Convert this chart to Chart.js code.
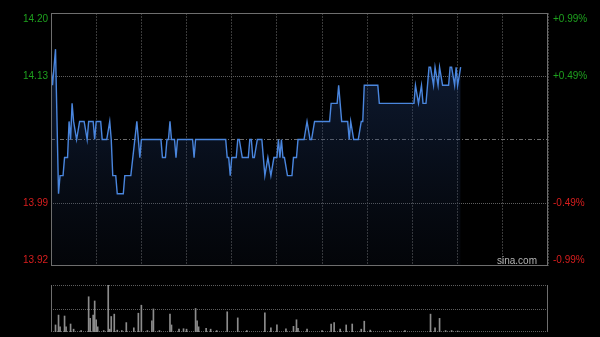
<!DOCTYPE html>
<html><head><meta charset="utf-8">
<script src="https://cdn.jsdelivr.net/npm/chart.js@4.4.1/dist/chart.umd.min.js"></script>
<style>
html,body{margin:0;padding:0;background:#000;}
#wrap{position:relative;width:600px;height:337px;background:#000;overflow:hidden;}
#p{position:absolute;left:0;top:0;}
#v{position:absolute;left:0;top:272px;}
</style></head><body>
<div id="wrap"><canvas id="p" width="600" height="272"></canvas><canvas id="v" width="600" height="65"></canvas></div>
<script>
// ---- data ----
const totalMinutes = 330;          // HK session 09:30-12:00, 13:00-16:00
const prevClose = 14.06;
const priceTicks = [13.92, 13.99, 14.06, 14.13, 14.20];
const priceLabels = ['13.92', '13.99', '', '14.13', '14.20'];
const pctLabels = ['-0.99%', '-0.49%', '', '+0.49%', '+0.99%'];

const priceMinutes = [0,1,3,5,6,8,9,11,12,13,14,15,17,19,22,24,25,28,29,30,33,34,37,39,40,41,43,44,48,49,53,57,59,60,
  73,74,76,77,78,79,80,82,83,84,94,95,96,116,117,118,119,120,123,124,125,127,131,132,133,134,135,137,140,142,144,146,148,150,
  151,152,153,154,155,157,160,161,163,164,168,170,172,173,175,185,186,190,191,193,197,198,199,201,204,206,207,208,217,218,
  241,242,244,246,247,249,251,252,254,255,257,258,260,264,265,266,268,269,270,272];
const prices = [14.14,14.12,14.16,14.00,14.02,14.02,14.04,14.04,14.08,14.06,14.10,14.08,14.06,14.08,14.08,14.06,14.08,14.08,14.06,14.08,14.08,14.06,14.06,14.08,14.06,14.02,14.02,14.00,14.00,14.02,14.02,14.08,14.04,14.06,
  14.06,14.04,14.04,14.06,14.06,14.08,14.06,14.06,14.04,14.06,14.06,14.04,14.06,14.06,14.04,14.04,14.02,14.04,14.04,14.06,14.06,14.04,14.04,14.06,14.06,14.04,14.04,14.06,14.06,14.02,14.04,14.02,14.04,14.04,
  14.06,14.04,14.06,14.04,14.04,14.02,14.02,14.04,14.04,14.06,14.06,14.08,14.06,14.06,14.08,14.08,14.10,14.10,14.12,14.08,14.08,14.06,14.08,14.06,14.06,14.08,14.08,14.12,14.12,14.10,
  14.10,14.12,14.10,14.12,14.10,14.10,14.14,14.14,14.12,14.14,14.12,14.14,14.12,14.12,14.14,14.14,14.12,14.14,14.12,14.14];

const volMinutes = [0,3,5,6,9,10,13,15,20,25,26,28,29,30,31,35,38,39,40,42,44,47,50,55,58,60,64,67,68,72,79,80,85,88,90,96,97,98,103,106,110,117,124,130,
  142,146,150,156,161,163,164,170,180,186,188,192,196,200,206,208,212,225,235,252,255,258,262,266,270];
const volumes = [34,15,36,11,34,11,17,6,3,75,29,36,66,26,11,3,100,6,33,38,4,3,20,9,40,57,3,24,49,3,38,15,6,7,6,50,24,11,8,6,3,43,30,3,
  41,9,15,7,12,26,8,6,3,17,20,6,15,17,6,23,4,3,3,38,9,29,3,3,2];

// ---- helpers ----
const GREEN = '#1ea01e', RED = '#d81e1e';
const FONT = {family: '"Liberation Sans", Arial, sans-serif', size: 10};
function tickColor(v){ return v > prevClose + 1e-9 ? GREEN : (v < prevClose - 1e-9 ? RED : '#888'); }
function edgeLabel(text, v){
  if (Math.abs(v - priceTicks[priceTicks.length-1]) < 1e-9) return ['', text];
  if (Math.abs(v - priceTicks[0]) < 1e-9) return [text, ''];
  return text;
}
const pricePoints = priceMinutes.map((m,i)=>({x:m, y:prices[i]}));
const volPoints = volMinutes.map((m,i)=>({x:m, y:volumes[i]}));

const framePlugin = {
  id: 'frame',
  beforeDatasetsDraw(chart){
    const ctx = chart.ctx, a = chart.chartArea, ys = chart.scales.y;
    ctx.save();
    ctx.lineWidth = 1;
    [priceTicks[1], priceTicks[3]].forEach(v=>{
      const y = Math.round(ys.getPixelForValue(v)) + 0.5;
      ctx.strokeStyle = '#5e5e5e'; ctx.setLineDash([1,1]);
      ctx.beginPath(); ctx.moveTo(a.left, y); ctx.lineTo(a.right, y); ctx.stroke();
    });
    const yc = Math.round(ys.getPixelForValue(prevClose)) + 0.5;
    ctx.strokeStyle = '#6c6c6c'; ctx.setLineDash([4,2,1,2]);
    ctx.beginPath(); ctx.moveTo(a.left, yc); ctx.lineTo(a.right, yc); ctx.stroke();
    ctx.restore();
  },
  afterDatasetsDraw(chart){
    const ctx = chart.ctx, a = chart.chartArea;
    ctx.save();
    ctx.setLineDash([]);
    ctx.lineWidth = 1;
    ctx.strokeStyle = '#6e6e6e';
    ctx.strokeRect(Math.round(a.left)+0.5, Math.round(a.top)+0.5, Math.round(a.right-a.left)-1, Math.round(a.bottom-a.top)-1);
    ctx.fillStyle = '#b4b4b4';
    ctx.font = '10px "Liberation Sans", Arial, sans-serif';
    ctx.textAlign = 'right'; ctx.textBaseline = 'middle';
    ctx.fillText('sina.com', a.right - 11, a.bottom - 5);
    ctx.restore();
  }
};

new Chart(document.getElementById('p'), {
  type: 'line',
  data: { datasets: [{
    data: pricePoints,
    borderColor: '#4a86de',
    borderWidth: 1.4,
    pointRadius: 0,
    tension: 0,
    fill: 'start',
    backgroundColor(c){
      const a = c.chart.chartArea;
      if (!a) return 'rgba(30,60,110,0.3)';
      const g = c.chart.ctx.createLinearGradient(0, a.top, 0, a.bottom);
      g.addColorStop(0, 'rgba(34,64,120,0.50)');
      g.addColorStop(0.5, 'rgba(30,56,104,0.30)');
      g.addColorStop(1, 'rgba(26,40,70,0.12)');
      return g;
    }
  }]},
  options: {
    responsive: false, animation: false, devicePixelRatio: 1,
    layout: { padding: {top: 13, bottom: 6, left: 0, right: 0} },
    plugins: { legend: {display: false}, tooltip: {enabled: false} },
    scales: {
      x: {
        type: 'linear', min: 0, max: totalMinutes,
        afterBuildTicks(s){ const t=[]; for (let m=0; m<=totalMinutes; m+=30) t.push({value:m}); s.ticks = t; },
        afterFit(s){ s.height = 0; },
        ticks: {display: false},
        grid: {color: '#3a3a3a', drawTicks: false, lineWidth: 1},
        border: {display: false, dash: [2,1]}
      },
      y: {
        position: 'left', min: priceTicks[0], max: priceTicks[priceTicks.length-1],
        afterBuildTicks(s){ s.ticks = priceTicks.map(v=>({value:v})); },
        afterFit(s){ s.width = 51; s.paddingTop = 0; s.paddingBottom = 0; },
        grid: {display: false, drawTicks: false},
        border: {display: false},
        ticks: {
          padding: 3, font: FONT,
          color: c => tickColor(c.tick.value),
          callback: v => edgeLabel(priceLabels[priceTicks.findIndex(t=>Math.abs(t-v)<1e-9)], v)
        }
      },
      y2: {
        position: 'right', min: priceTicks[0], max: priceTicks[priceTicks.length-1],
        afterBuildTicks(s){ s.ticks = priceTicks.map(v=>({value:v})); },
        afterFit(s){ s.width = 52; s.paddingTop = 0; s.paddingBottom = 0; },
        grid: {display: false, drawTicks: false},
        border: {display: false},
        ticks: {
          padding: 5, font: FONT,
          color: c => tickColor(c.tick.value),
          callback: v => edgeLabel(pctLabels[priceTicks.findIndex(t=>Math.abs(t-v)<1e-9)], v)
        }
      }
    }
  },
  plugins: [framePlugin]
});

const volFrame = {
  id: 'volFrame',
  beforeDatasetsDraw(chart){
    const ctx = chart.ctx, a = chart.chartArea, ys = chart.scales.y;
    ctx.save(); ctx.lineWidth = 1;
    ctx.strokeStyle = '#5e5e5e'; ctx.setLineDash([1,1]);
    [ys.max, ys.max/2, 0].forEach(v=>{
      const y = Math.round(ys.getPixelForValue(v)) + (v===0 ? -0.5 : 0.5);
      ctx.beginPath(); ctx.moveTo(a.left, y); ctx.lineTo(a.right, y); ctx.stroke();
    });
    ctx.restore();
  },
  afterDatasetsDraw(chart){
    const ctx = chart.ctx, a = chart.chartArea;
    ctx.save(); ctx.lineWidth = 1; ctx.setLineDash([]); ctx.strokeStyle = '#6e6e6e';
    const l = Math.round(a.left)+0.5, r = Math.round(a.right)-0.5;
    ctx.beginPath(); ctx.moveTo(l, a.top); ctx.lineTo(l, a.bottom); ctx.moveTo(r, a.top); ctx.lineTo(r, a.bottom); ctx.stroke();
    ctx.restore();
  }
};

new Chart(document.getElementById('v'), {
  type: 'bar',
  data: { datasets: [{ data: volPoints, backgroundColor: '#8c8c8c', barThickness: 1, grouped: false }]},
  options: {
    responsive: false, animation: false, devicePixelRatio: 1,
    layout: { padding: {top: 13, bottom: 5, left: 51, right: 52} },
    plugins: { legend: {display: false}, tooltip: {enabled: false} },
    scales: {
      x: { type: 'linear', min: 0, max: totalMinutes, display: false, offset: false },
      y: { min: 0, max: 100, display: false }
    }
  },
  plugins: [volFrame]
});
</script>
</body></html>
